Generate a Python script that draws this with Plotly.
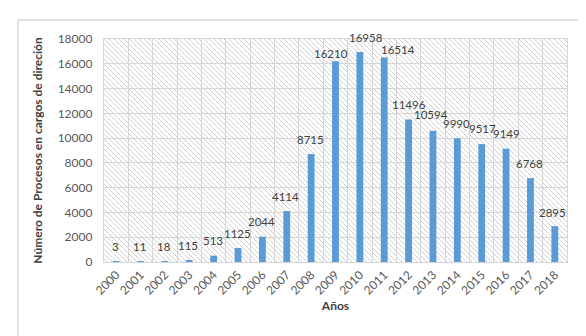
import base64
import plotly.graph_objects as go

years = [str(y) for y in range(2000, 2019)]
values = [3, 11, 18, 115, 513, 1125, 2044, 4114, 8715, 16210, 16958, 16514,
          11496, 10594, 9990, 9517, 9149, 6768, 2895]
y_ticks = list(range(0, 18001, 2000))

# label placement offsets (pixels), as in the original chart
label_dx = [-1, -1, -1, -1, -1, -1, -1, -1, -1, -5, 6, 14, 0, -2, -1, 1, 0, -1, -2]
label_dy = [15, 15, 15, 15, 15, 15, 15, 15, 15, 8, 14, 8, 15, 16, 15, 16, 15, 15, 14]

W, H = 586, 336
L, R, T, B = 96, 27, 31, 82
pw, ph = W - L - R, H - T - B

svg = (f"<svg xmlns='http://www.w3.org/2000/svg' width='{pw}' height='{ph}'>"
       "<defs><pattern id='p' width='5' height='5' patternUnits='userSpaceOnUse'>"
       "<path d='M-1,-1 L6,6 M-1,4 L1,6 M4,-1 L6,1' stroke='#c4c4c4' stroke-width='0.8'/>"
       "</pattern></defs><rect width='100%' height='100%' fill='url(#p)'/></svg>")
src = "data:image/svg+xml;base64," + base64.b64encode(svg.encode()).decode()

font = "Lato, 'Open Sans', sans-serif"

fig = go.Figure()
fig.add_trace(go.Bar(
    x=years, y=values, width=0.28,
    marker=dict(color="#5B9BD5", line=dict(width=0)),
    cliponaxis=False,
))

# annotations on a category axis are positioned by category index
for i, (v, dx, dy) in enumerate(zip(values, label_dx, label_dy)):
    fig.add_annotation(x=i, y=v, text=str(v), showarrow=False, borderpad=0,
                       xanchor="center", yanchor="middle", xshift=dx, yshift=dy,
                       font=dict(family=font, size=11.5, color="#404040"))

fig.update_layout(
    width=W, height=H,
    margin=dict(l=L, r=R, t=T, b=B),
    paper_bgcolor="white", plot_bgcolor="rgba(0,0,0,0)",
    showlegend=False,
    font=dict(family=font, color="#595959"),
    images=[dict(source=src, xref="paper", yref="paper", x=0, y=1,
                 sizex=1, sizey=1, sizing="stretch", xanchor="left",
                 yanchor="top", layer="below")],
    shapes=[dict(type="rect", xref="paper", yref="paper",
                 x0=(10 - L) / pw, x1=(577 - L) / pw,
                 y0=(H - B - 330) / ph, y1=(H - B - 12) / ph,
                 line=dict(color="#d9d9d9", width=1.5), fillcolor="rgba(0,0,0,0)",
                 layer="below")],
)
fig.update_xaxes(
    type="category", tickson="boundaries", showgrid=True,
    range=[-0.5, len(years) - 0.5],
    gridcolor="#d6d6d6", gridwidth=1.3, tickangle=-45,
    tickfont=dict(size=12, color="#595959"), ticks="",
    showline=True, linecolor="#d6d6d6", linewidth=1.3, mirror=True,
    title=dict(text="<b>Años</b>", font=dict(size=12, color="#404040"), standoff=0),
)
fig.update_yaxes(
    range=[0, 18000], tickvals=y_ticks, ticktext=[str(v) for v in y_ticks],
    showgrid=True, gridcolor="#d6d6d6", gridwidth=1.3, zeroline=False,
    tickfont=dict(size=12, color="#595959"), ticklabelstandoff=8,
    showline=True, linecolor="#d6d6d6", linewidth=1.3, mirror=True,
    title=dict(text="<b>Número de Procesos en cargos de direción</b>",
               font=dict(size=12, color="#404040"), standoff=12),
)

fig.write_html("out.html")
